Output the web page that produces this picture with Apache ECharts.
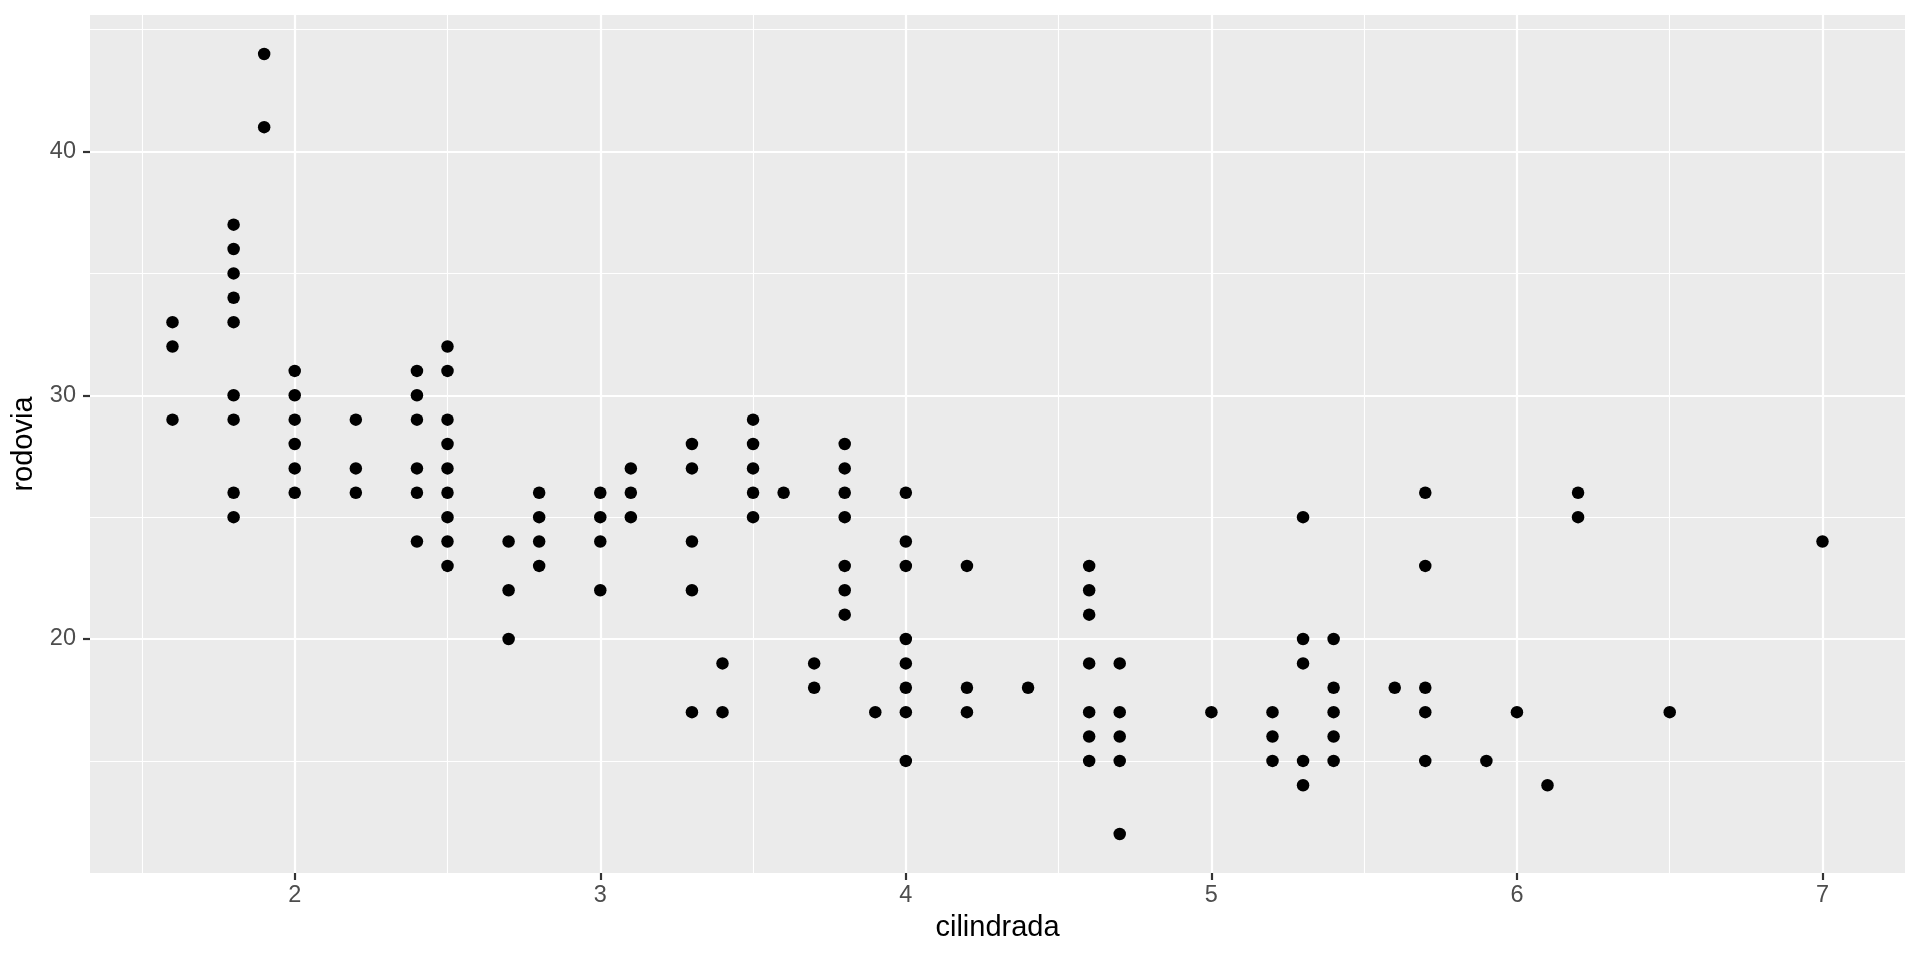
<!DOCTYPE html>
<html>
<head>
<meta charset="utf-8">
<script src="https://cdn.jsdelivr.net/npm/echarts@6/dist/echarts.min.js"></script>
<style>
html,body{margin:0;padding:0;background:#fff;}
#chart{width:1920px;height:960px;}
</style>
</head>
<body>
<div id="chart"></div>
<script>
// engine displacement (cilindrada) and highway mpg (rodovia), one entry per visible point
const displ = [
  1.6,1.6,1.6,
  1.8,1.8,1.8,1.8,1.8,1.8,1.8,1.8,1.8,
  1.9,1.9,
  2.0,2.0,2.0,2.0,2.0,2.0,
  2.2,2.2,2.2,
  2.4,2.4,2.4,2.4,2.4,2.4,
  2.5,2.5,2.5,2.5,2.5,2.5,2.5,2.5,2.5,
  2.7,2.7,2.7,
  2.8,2.8,2.8,2.8,
  3.0,3.0,3.0,3.0,
  3.1,3.1,3.1,
  3.3,3.3,3.3,3.3,3.3,
  3.4,3.4,
  3.5,3.5,3.5,3.5,3.5,
  3.6,
  3.7,3.7,
  3.8,3.8,3.8,3.8,3.8,3.8,3.8,
  3.9,
  4.0,4.0,4.0,4.0,4.0,4.0,4.0,4.0,
  4.2,4.2,4.2,
  4.4,
  4.6,4.6,4.6,4.6,4.6,4.6,4.6,
  4.7,4.7,4.7,4.7,4.7,
  5.0,
  5.2,5.2,5.2,
  5.3,5.3,5.3,5.3,5.3,
  5.4,5.4,5.4,5.4,5.4,
  5.6,
  5.7,5.7,5.7,5.7,5.7,
  5.9,
  6.0,
  6.1,
  6.2,6.2,
  6.5,
  7.0
];
const hwy = [
  33,32,29,
  37,36,35,34,33,30,29,26,25,
  44,41,
  31,30,29,28,27,26,
  29,27,26,
  31,30,29,27,26,24,
  32,31,29,28,27,26,25,24,23,
  24,22,20,
  26,25,24,23,
  26,25,24,22,
  27,26,25,
  28,27,24,22,17,
  19,17,
  29,28,27,26,25,
  26,
  19,18,
  28,27,26,25,23,22,21,
  17,
  26,24,23,20,19,18,17,15,
  23,18,17,
  18,
  23,22,21,19,17,16,15,
  19,17,16,15,12,
  17,
  17,16,15,
  25,20,19,15,14,
  20,18,17,16,15,
  18,
  26,23,18,17,15,
  15,
  17,
  14,
  26,25,
  17,
  24
];
const xTicks = [2,3,4,5,6,7];
const xMinor = [1.5,2.5,3.5,4.5,5.5,6.5];
const yTicks = [20,30,40];
const yMinor = [15,25,35,45];
const xRange = [1.33, 7.27];
const yRange = [10.4, 45.6];

const points = displ.map((d,i)=>[d,hwy[i]]);
const font = 'Liberation Sans, Arial, Helvetica, sans-serif';

const gridLines = [];
xMinor.forEach(v=>gridLines.push({xAxis:v, lineStyle:{width:1.1}}));
xTicks.forEach(v=>gridLines.push({xAxis:v, lineStyle:{width:2.2}}));
yMinor.forEach(v=>gridLines.push({yAxis:v, lineStyle:{width:1.1}}));
yTicks.forEach(v=>gridLines.push({yAxis:v, lineStyle:{width:2.2}}));

const chart = echarts.init(document.getElementById('chart'), null, {renderer:'canvas'});
chart.setOption({
  animation:false,
  backgroundColor:'#ffffff',
  grid:{left:90, right:15, top:15, bottom:87, show:true, backgroundColor:'#EBEBEB', borderWidth:0,
        containLabel:false, outerBoundsMode:'none'},
  xAxis:{
    type:'value', min:xRange[0], max:xRange[1],
    name:'cilindrada', nameLocation:'middle', nameGap:40,
    nameTextStyle:{color:'#000', fontSize:29, fontFamily:font},
    axisLine:{show:false},
    axisTick:{show:true, length:7, lineStyle:{color:'#333333', width:2.2}, customValues:xTicks},
    axisLabel:{color:'#4D4D4D', fontSize:23.5, fontFamily:font, margin:11, customValues:xTicks},
    splitLine:{show:false}
  },
  yAxis:{
    type:'value', min:yRange[0], max:yRange[1],
    name:'rodovia', nameLocation:'middle', nameGap:47, nameRotate:90,
    nameTextStyle:{color:'#000', fontSize:29, fontFamily:font},
    axisLine:{show:false},
    axisTick:{show:true, length:7, lineStyle:{color:'#333333', width:2.2}, customValues:yTicks},
    axisLabel:{color:'#4D4D4D', fontSize:23.5, fontFamily:font, margin:14, customValues:yTicks},
    splitLine:{show:false}
  },
  series:[
    {
      type:'scatter', data:[], z:1, silent:true,
      markLine:{
        silent:true, symbol:['none','none'], label:{show:false},
        lineStyle:{color:'#ffffff', type:'solid'},
        emphasis:{disabled:true},
        data:gridLines
      }
    },
    {
      type:'scatter', data:points, z:5,
      symbol:'circle', symbolSize:12.5,
      itemStyle:{color:'#000000', opacity:1},
      emphasis:{disabled:true}
    }
  ]
});
</script>
</body>
</html>
